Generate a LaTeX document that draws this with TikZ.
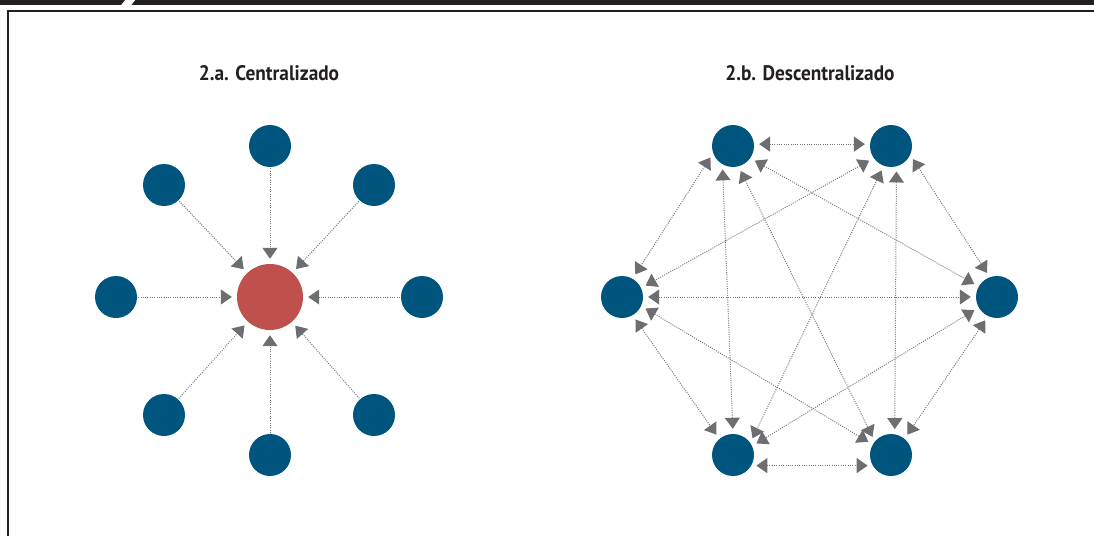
\documentclass[tikz,border=0pt]{standalone}
\usepackage{fontspec}
\setmainfont{PT Sans}
\newfontfamily\titlefont[FakeStretch=0.92]{PT Sans}
\usetikzlibrary{arrows.meta}
\definecolor{nodeblue}{HTML}{00557E}
\definecolor{hubred}{HTML}{C0504D}
\definecolor{tipgray}{HTML}{6D6E71}
\definecolor{linegray}{HTML}{767676}
\definecolor{framedark}{HTML}{231F20}
\tikzset{
  peer/.style={circle, fill=nodeblue, minimum size=42pt, inner sep=0pt},
  hub/.style={circle, fill=hubred, minimum size=66pt, inner sep=0pt},
  title/.style={font=\titlefont\bfseries\fontsize{21}{24}\selectfont, text=framedark},
  link/.style={draw=linegray, line width=1pt, dash pattern=on 1pt off 1.3pt,
    -{Triangle[length=11pt,width=15pt,color=tipgray]}, shorten >=5pt, shorten <=1pt},
  duplex/.style={draw=linegray, line width=1pt, dash pattern=on 1pt off 1.3pt,
    {Triangle[length=11pt,width=15pt,color=tipgray]}-{Triangle[length=11pt,width=15pt,color=tipgray]},
    shorten >=5pt, shorten <=5pt}
}
\begin{document}
\begin{tikzpicture}[x=1pt,y=-1pt]
\useasboundingbox (0,0) rectangle (1094,535);
% top bar
\fill[framedark] (0,0) rectangle (1094,5.5);
\fill[white] (126,-1) -- (136,-1) -- (130,6.5) -- (120,6.5) -- cycle;
% frame
\draw[framedark, line width=2.8pt] (8,540) -- (8,11) -- (1100,11);
% titles
\node[title] (ta) at (269,73) {2.a. Centralizado};
\node[title] (tb) at (810,73) {2.b. Descentralizado};
% centralized
\node[hub] (C) at (270,297) {};
\node[peer] (c1) at (270,146) {};
\node[peer] (c2) at (374,185) {};
\node[peer] (c3) at (422,297) {};
\node[peer] (c4) at (374,415) {};
\node[peer] (c5) at (270,455) {};
\node[peer] (c6) at (164,415) {};
\node[peer] (c7) at (116,297) {};
\node[peer] (c8) at (164,185) {};
\foreach \n in {c1,c2,c3,c4,c5,c6,c7,c8} \draw[link] (\n) -- (C);
% decentralized
\node[peer] (TL) at (733,146) {};
\node[peer] (TR) at (891,146) {};
\node[peer] (L) at (622,297) {};
\node[peer] (R) at (997,297) {};
\node[peer] (BL) at (733,455) {};
\node[peer] (BR) at (891,455) {};
\draw[duplex] (TL.5) -- (TR.175);
\draw[duplex] (TL.200) -- (L.60);
\draw[duplex] (TL.-120) -- (BL.90);
\draw[duplex] (TL.-75) -- (BR.140);
\draw[duplex] (TL.-35) -- (R.150);
\draw[duplex] (TR.215) -- (L.25);
\draw[duplex] (TR.-110) -- (BL.35);
\draw[duplex] (TR.-75) -- (BR.80);
\draw[duplex] (TR.-25) -- (R.110);
\draw[duplex] (L.0) -- (R.180);
\draw[duplex] (L.-60) -- (BL.130);
\draw[duplex] (L.-25) -- (BR.150);
\draw[duplex] (R.210) -- (BL.25);
\draw[duplex] (R.-115) -- (BR.50);
\draw[duplex] (BL.-30) -- (BR.210);
\end{tikzpicture}
\end{document}
